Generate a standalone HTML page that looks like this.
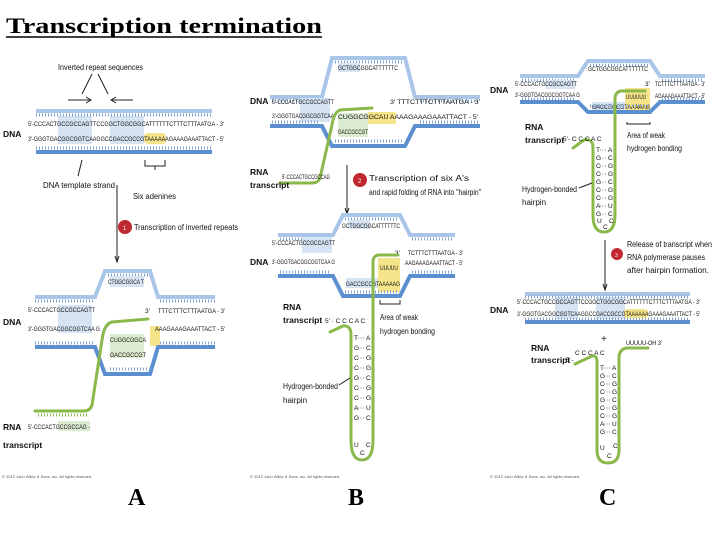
<!DOCTYPE html>
<html><head><meta charset="utf-8"><style>
html,body{margin:0;padding:0;background:#fff;}
svg{display:block;font-family:"Liberation Sans",sans-serif;}
.s{font-size:6.5px;fill:#111;}
.l{font-size:8px;fill:#111;}
.b{font-size:8.5px;font-weight:bold;fill:#111;}
.g{stroke:#8ab84a;stroke-width:3;fill:none;stroke-linecap:round;}
.tl{stroke:#a9c5e8;stroke-width:4;fill:none;}
.bl{stroke:#5b8fd0;stroke-width:4;fill:none;}
.tk{stroke:#7ea2d2;stroke-width:3;stroke-dasharray:1 2;fill:none;}
.ar{stroke:#222;stroke-width:1;fill:none;}
.c{font-size:4px;fill:#555;}
.bp{stroke:#555;stroke-width:0.8;stroke-dasharray:1 1.5;}
</style></head><body>
<svg width="720" height="540" viewBox="0 0 720 540" xmlns="http://www.w3.org/2000/svg">
<rect width="720" height="540" fill="#fff"/>
<text x="6" y="33" font-family="Liberation Serif,serif" font-weight="bold" font-size="22" textLength="316" lengthAdjust="spacingAndGlyphs">Transcription termination</text>
<line x1="6" y1="37" x2="322" y2="37" stroke="#000" stroke-width="1.5"/>

<!-- ===== Panel A top ===== -->
<text x="58" y="70" class="l" textLength="85" lengthAdjust="spacingAndGlyphs">Inverted repeat sequences</text>
<path d="M92 74 L82 94 M98 74 L108 94" class="ar"/>
<path d="M68 100 L90 100 M112 100 L133 100" class="ar"/>
<path d="M86 97 L91 100 L86 103 M116 97 L111 100 L116 103" class="ar"/>
<rect x="58" y="116" width="34" height="28" fill="#d6e3f3"/>
<rect x="110" y="116" width="34" height="28" fill="#d6e3f3"/>
<rect x="144" y="133" width="22" height="11" rx="4" fill="#f5e48a"/>
<line x1="36" y1="111" x2="212" y2="111" class="tl"/>
<line x1="36" y1="115" x2="212" y2="115" class="tk"/>
<text x="28" y="126" class="s" textLength="196" lengthAdjust="spacingAndGlyphs">5'-CCCACTGCCGCCAGTTCCGGCTGGCGGCATTTTTTCTTTCTTTAATGA - 3'</text>
<text x="28" y="141" class="s" textLength="196" lengthAdjust="spacingAndGlyphs">3'-GGGTGACGGCGGTCAAGGCCGACCGCCGTAAAAAAGAAAGAAATTACT - 5'</text>
<line x1="36" y1="148" x2="212" y2="148" class="tk"/>
<line x1="36" y1="152" x2="212" y2="152" class="bl"/>
<text x="3" y="137" class="b">DNA</text>
<path d="M145 160 L145 166 L165 166 L165 160 M155 166 L155 170" class="ar"/>
<path d="M82 160 L78 176" class="ar"/>
<text x="43" y="188" class="l" textLength="72" lengthAdjust="spacingAndGlyphs">DNA template strand</text>
<text x="133" y="199" class="l" textLength="43" lengthAdjust="spacingAndGlyphs">Six adenines</text>
<line x1="117" y1="185" x2="117" y2="260" class="ar"/>
<path d="M115 256 L117 262 L119 256" class="ar"/>
<circle cx="125" cy="227" r="7" fill="#c0282f"/>
<text x="123" y="230" font-size="6" fill="#fff">1</text>
<text x="134" y="230" class="l" textLength="104" lengthAdjust="spacingAndGlyphs">Transcription of inverted repeats</text>

<!-- ===== Panel A bottom ===== -->
<path d="M35 297 L95 297 L105 271 L150 271 L158 297 L215 297" class="tl"/>
<path d="M35 301 L95 301 M160 301 L215 301 M108 275 L148 275" class="tk"/>
<rect x="58" y="305" width="34" height="28" fill="#d6e3f3"/>
<rect x="110" y="276" width="34" height="11" fill="#d6e3f3"/>
<rect x="110" y="334" width="34" height="24" fill="#dcebd0"/>
<rect x="150" y="326" width="10" height="20" fill="#f5e48a"/>
<text x="108" y="284" class="s" textLength="36" lengthAdjust="spacingAndGlyphs">CTGGCGGCA T</text>
<text x="28" y="312" class="s" textLength="67" lengthAdjust="spacingAndGlyphs">5'-CCCACTGCCGCCAGTT</text>
<text x="145" y="313" class="s">3'</text>
<text x="158" y="313" class="s" textLength="67" lengthAdjust="spacingAndGlyphs">TTTCTTTCTTTAATGA - 3'</text>
<text x="28" y="331" class="s" textLength="72" lengthAdjust="spacingAndGlyphs">3'-GGGTGACGGCGGTCAA G</text>
<text x="155" y="331" class="s" textLength="70" lengthAdjust="spacingAndGlyphs">AAAGAAAGAAATTACT - 5'</text>
<text x="110" y="342" class="s" textLength="36" lengthAdjust="spacingAndGlyphs">CUGGCGGCA</text>
<text x="110" y="357" class="s" textLength="36" lengthAdjust="spacingAndGlyphs">GACCGCCGT</text>
<path d="M35 343 L95 343 M160 343 L215 343 M110 369 L148 369" class="tk"/>
<path d="M35 347 L95 347 L105 374 L150 374 L158 347 L215 347" class="bl"/>
<path d="M148 319 L112 322 Q104 324 102 340 L92 405 Q90 411 84 411 L35 411" class="g"/>
<path d="M38 415 L88 415" class="tk" style="stroke:#8ab84a"/>
<rect x="58" y="421" width="32" height="10" fill="#dcebd0"/>
<text x="28" y="429" class="s" textLength="62" lengthAdjust="spacingAndGlyphs">5'-CCCACTGCCGCCAG -</text>
<text x="3" y="325" class="b">DNA</text>
<text x="3" y="430" class="b">RNA</text>
<text x="3" y="448" class="b">transcript</text>
<text x="2" y="478" class="c">© 2012 John Wiley &amp; Sons, Inc. All rights reserved.</text>

<!-- ===== Panel B top ===== -->
<path d="M270 97 L322 97 L332 58 L405 58 L415 97 L480 97" class="tl"/>
<path d="M272 101 L320 101 M420 101 L478 101 M335 62 L403 62" class="tk"/>
<rect x="338" y="63" width="22" height="9" fill="#d6e3f3"/>
<rect x="300" y="98" width="30" height="24" fill="#d6e3f3"/>
<rect x="338" y="113" width="30" height="24" fill="#dcebd0"/>
<rect x="368" y="112" width="28" height="12" fill="#f5e48a"/>
<text x="338" y="70" class="s" textLength="60" lengthAdjust="spacingAndGlyphs">GCTGGCGGCATTTTTTC</text>
<text x="272" y="104" class="s" textLength="62" lengthAdjust="spacingAndGlyphs">5'-CCCACTGCCGCCAGTT</text>
<text x="390" y="104" class="s" textLength="90" lengthAdjust="spacingAndGlyphs">3'  TTTCTTTCTTTAATGA - 3'</text>
<text x="272" y="118" class="s" textLength="62" lengthAdjust="spacingAndGlyphs">3'-GGGTGACGGCGGTCAA</text>
<text x="338" y="119" class="s" textLength="140" lengthAdjust="spacingAndGlyphs">CUGGCGGCAU AAAAGAAAGAAATTACT - 5'</text>
<text x="338" y="134" class="s" textLength="30" lengthAdjust="spacingAndGlyphs">GACCGCCGT</text>
<path d="M272 122 L320 122 M420 122 L478 122 M335 141 L403 141" class="tk"/>
<path d="M270 126 L322 126 L332 146 L405 146 L415 126 L480 126" class="bl"/>
<path d="M372 108 L340 110 Q334 112 332 125 L320 178 Q318 183 312 183 L280 183" class="g"/>
<text x="250" y="175" class="b">RNA</text>
<text x="250" y="188" class="b" font-size="7">transcript</text>
<text x="282" y="179" class="s" textLength="48" lengthAdjust="spacingAndGlyphs">5'-CCCACTGCCGCCAG</text>
<text x="250" y="104" class="b">DNA</text>
<line x1="347" y1="165" x2="347" y2="212" class="ar"/>
<path d="M345 208 L347 214 L349 208" class="ar"/>
<circle cx="360" cy="180" r="7" fill="#c0282f"/>
<text x="358" y="183" font-size="6" fill="#fff">2</text>
<text x="369" y="181" class="l" textLength="100" lengthAdjust="spacingAndGlyphs">Transcription of six A's</text>
<text x="369" y="195" class="l" textLength="112" lengthAdjust="spacingAndGlyphs">and rapid folding of RNA into "hairpin"</text>

<!-- ===== Panel B bottom ===== -->
<path d="M278 235 L333 235 L343 215 L400 215 L410 235 L455 235" class="tl"/>
<path d="M280 239 L331 239 M412 239 L453 239 M345 219 L398 219" class="tk"/>
<rect x="348" y="220" width="22" height="9" fill="#d6e3f3"/>
<rect x="302" y="237" width="30" height="16" fill="#d6e3f3"/>
<rect x="378" y="258" width="22" height="34" fill="#f5e48a"/>
<rect x="346" y="278" width="32" height="10" fill="#d6e3f3"/>
<text x="342" y="228" class="s" textLength="58" lengthAdjust="spacingAndGlyphs">GCTGGCGGCATTTTTTC</text>
<text x="272" y="245" class="s" textLength="63" lengthAdjust="spacingAndGlyphs">5'-CCCACTGCCGCCAGTT</text>
<text x="395" y="255" class="s">3'</text>
<text x="408" y="255" class="s" textLength="55" lengthAdjust="spacingAndGlyphs">TCTTTCTTTAATGA - 3'</text>
<text x="272" y="264" class="s" textLength="63" lengthAdjust="spacingAndGlyphs">3'-GGGTGACGGCGGTCAA G</text>
<text x="405" y="265" class="s" textLength="58" lengthAdjust="spacingAndGlyphs">AAGAAAGAAATTACT - 5'</text>
<text x="380" y="270" class="s" textLength="18" lengthAdjust="spacingAndGlyphs">UUUUU</text>
<text x="346" y="286" class="s" textLength="54" lengthAdjust="spacingAndGlyphs">GACCGCCGTAAAAAG</text>
<path d="M280 272 L331 272 M412 272 L453 272 M345 292 L398 292" class="tk"/>
<path d="M278 276 L333 276 L343 296 L400 296 L410 276 L455 276" class="bl"/>
<path d="M398 255 L378 255 Q373 256 373 262 L373 440 Q373 460 362 460 Q351 460 351 440 L351 335 Q351 325 343 326 L330 332" class="g"/>
<text x="325" y="323" class="s">5' · C C C A C</text>
<g class="s" font-size="5.5">
<text x="354" y="340">T</text><text x="354" y="350">G</text><text x="354" y="360">C</text><text x="354" y="370">C</text><text x="354" y="380">G</text><text x="354" y="390">C</text><text x="354" y="400">C</text><text x="354" y="410">A</text><text x="354" y="420">G</text>
<text x="366" y="340">A</text><text x="366" y="350">C</text><text x="366" y="360">G</text><text x="366" y="370">G</text><text x="366" y="380">C</text><text x="366" y="390">G</text><text x="366" y="400">G</text><text x="366" y="410">U</text><text x="366" y="420">C</text>
<text x="354" y="447">U</text><text x="366" y="447">C</text><text x="360" y="455">C</text>
</g>
<path d="M358 338 L365 338 M358 348 L365 348 M358 358 L365 358 M358 368 L365 368 M358 378 L365 378 M358 388 L365 388 M358 398 L365 398 M358 408 L365 408 M358 418 L365 418" class="bp"/>
<text x="250" y="265" class="b">DNA</text>
<text x="283" y="310" class="b">RNA</text>
<text x="283" y="323" class="b" font-size="7">transcript</text>
<path d="M380 300 L380 304 L400 304 L400 300" class="ar"/>
<text x="380" y="320" class="l" textLength="38" lengthAdjust="spacingAndGlyphs">Area of weak</text>
<text x="380" y="334" class="l" textLength="55" lengthAdjust="spacingAndGlyphs">hydrogen bonding</text>
<text x="283" y="389" class="l" textLength="55" lengthAdjust="spacingAndGlyphs">Hydrogen-bonded</text>
<text x="283" y="403" class="l">hairpin</text>
<path d="M339 385 L350 378" class="ar"/>
<text x="250" y="478" class="c">© 2012 John Wiley &amp; Sons, Inc. All rights reserved.</text>

<!-- ===== Panel C top ===== -->
<path d="M520 76 L578 76 L588 61 L650 61 L660 76 L705 76" class="tl"/>
<path d="M522 80 L576 80 M662 80 L703 80 M590 65 L648 65" class="tk"/>
<rect x="545" y="80" width="30" height="9" fill="#d6e3f3"/>
<rect x="625" y="88" width="25" height="22" fill="#f5e48a"/>
<rect x="592" y="102" width="33" height="9" fill="#d6e3f3"/>
<text x="588" y="71" class="s" textLength="60" lengthAdjust="spacingAndGlyphs">GCTGGCGGCATTTTTTC</text>
<text x="515" y="86" class="s" textLength="62" lengthAdjust="spacingAndGlyphs">5'-CCCACTGCCGCCAGTT</text>
<text x="645" y="86" class="s">3'</text>
<text x="655" y="86" class="s" textLength="50" lengthAdjust="spacingAndGlyphs">TCTTTCTTTAATGA - 3'</text>
<text x="515" y="97" class="s" textLength="65" lengthAdjust="spacingAndGlyphs">3'-GGGTGACGGCGGTCAA G</text>
<text x="626" y="99" class="s" textLength="20" lengthAdjust="spacingAndGlyphs">UUUUUU</text>
<text x="655" y="98" class="s" textLength="50" lengthAdjust="spacingAndGlyphs">AGAAAGAAATTACT - 5'</text>
<text x="592" y="109" class="s" textLength="58" lengthAdjust="spacingAndGlyphs">GACCGCCGTAAAAAG</text>
<path d="M522 99 L576 99 M662 99 L703 99 M590 106 L648 106" class="tk"/>
<path d="M520 102 L578 102 L588 112 L650 112 L660 102 L705 102" class="bl"/>
<path d="M645 91 L621 91 Q615 92 615 99 L615 215 Q615 232 604 232 Q593 232 593 215 L593 148 Q593 138 584 140 L573 148" class="g"/>
<text x="563" y="141" class="s">5'- C C C A C</text>
<g class="s" font-size="5.5">
<text x="596" y="152">T</text><text x="596" y="160">G</text><text x="596" y="168">C</text><text x="596" y="176">C</text><text x="596" y="184">G</text><text x="596" y="192">C</text><text x="596" y="200">C</text><text x="596" y="208">A</text><text x="596" y="216">G</text>
<text x="608" y="152">A</text><text x="608" y="160">C</text><text x="608" y="168">G</text><text x="608" y="176">G</text><text x="608" y="184">C</text><text x="608" y="192">G</text><text x="608" y="200">G</text><text x="608" y="208">U</text><text x="608" y="216">C</text>
<text x="597" y="223">U</text><text x="609" y="223">C</text><text x="603" y="229">C</text>
</g>
<path d="M600 150 L607 150 M600 158 L607 158 M600 166 L607 166 M600 174 L607 174 M600 182 L607 182 M600 190 L607 190 M600 198 L607 198 M600 206 L607 206 M600 214 L607 214" class="bp"/>
<text x="490" y="93" class="b">DNA</text>
<text x="525" y="130" class="b">RNA</text>
<text x="525" y="143" class="b" font-size="7">transcript</text>
<path d="M627 122 L627 124 L650 124 L650 122" class="ar"/>
<text x="627" y="138" class="l" textLength="38" lengthAdjust="spacingAndGlyphs">Area of weak</text>
<text x="627" y="151" class="l" textLength="55" lengthAdjust="spacingAndGlyphs">hydrogen bonding</text>
<text x="522" y="192" class="l" textLength="55" lengthAdjust="spacingAndGlyphs">Hydrogen-bonded</text>
<text x="522" y="205" class="l">hairpin</text>
<path d="M579 188 L592 183" class="ar"/>
<line x1="605" y1="240" x2="605" y2="288" class="ar"/>
<path d="M603 284 L605 290 L607 284" class="ar"/>
<circle cx="617" cy="254" r="6" fill="#c0282f"/>
<text x="615" y="257" font-size="5" fill="#fff">3</text>
<text x="627" y="247" class="l" textLength="85" lengthAdjust="spacingAndGlyphs">Release of transcript when</text>
<text x="627" y="260" class="l" textLength="78" lengthAdjust="spacingAndGlyphs">RNA polymerase pauses</text>
<text x="627" y="273" class="l" textLength="82" lengthAdjust="spacingAndGlyphs">after hairpin formation.</text>

<!-- ===== Panel C bottom ===== -->
<rect x="555" y="297" width="23" height="22" fill="#d6e3f3"/>
<rect x="596" y="297" width="29" height="22" fill="#d6e3f3"/>
<rect x="624" y="309" width="24" height="9" rx="3" fill="#f5e48a"/>
<line x1="525" y1="294" x2="690" y2="294" class="tl"/>
<line x1="525" y1="297" x2="690" y2="297" class="tk"/>
<text x="517" y="304" class="s" textLength="183" lengthAdjust="spacingAndGlyphs">5'-CCCACTGCCGCCAGTTCCGGCTGGCGGCATTTTTTCTTTCTTTAATGA - 3'</text>
<text x="517" y="316" class="s" textLength="183" lengthAdjust="spacingAndGlyphs">3'-GGGTGACGGCGGTCAAGGCCGACCGCCGTAAAAAAGAAAGAAATTACT - 5'</text>
<line x1="525" y1="319" x2="690" y2="319" class="tk"/>
<line x1="525" y1="322" x2="690" y2="322" class="bl"/>
<text x="490" y="313" class="b">DNA</text>
<text x="601" y="342" font-size="10" fill="#222">+</text>
<text x="531" y="351" class="b">RNA</text>
<text x="531" y="363" class="b" font-size="7">transcript</text>
<text x="566" y="362" class="s">5 -</text>
<text x="575" y="355" class="s">C C C A C</text>
<text x="626" y="345" class="s" textLength="36" lengthAdjust="spacingAndGlyphs">UUUUU-OH 3'</text>
<path d="M575 364 L592 356 Q597 355 597 362 L597 450 Q597 463 608 463 Q619 463 619 450 L619 358 Q619 349 627 348 L648 348" class="g"/>
<g class="s" font-size="5.5">
<text x="600" y="370">T</text><text x="600" y="378">G</text><text x="600" y="386">C</text><text x="600" y="394">C</text><text x="600" y="402">G</text><text x="600" y="410">C</text><text x="600" y="418">C</text><text x="600" y="426">A</text><text x="600" y="434">G</text>
<text x="612" y="370">A</text><text x="612" y="378">C</text><text x="612" y="386">G</text><text x="612" y="394">G</text><text x="612" y="402">C</text><text x="612" y="410">G</text><text x="612" y="418">G</text><text x="612" y="426">U</text><text x="612" y="434">C</text>
<text x="600" y="450">U</text><text x="613" y="448">C</text><text x="607" y="458">C</text>
</g>
<path d="M604 368 L611 368 M604 376 L611 376 M604 384 L611 384 M604 392 L611 392 M604 400 L611 400 M604 408 L611 408 M604 416 L611 416 M604 424 L611 424 M604 432 L611 432" class="bp"/>
<text x="490" y="478" class="c">© 2012 John Wiley &amp; Sons, Inc. All rights reserved.</text>

<!-- Labels -->
<text x="128" y="505" font-family="Liberation Serif,serif" font-weight="bold" font-size="24" fill="#000">A</text>
<text x="348" y="505" font-family="Liberation Serif,serif" font-weight="bold" font-size="24" fill="#000">B</text>
<text x="599" y="505" font-family="Liberation Serif,serif" font-weight="bold" font-size="24" fill="#000">C</text>
</svg>
</body></html>
